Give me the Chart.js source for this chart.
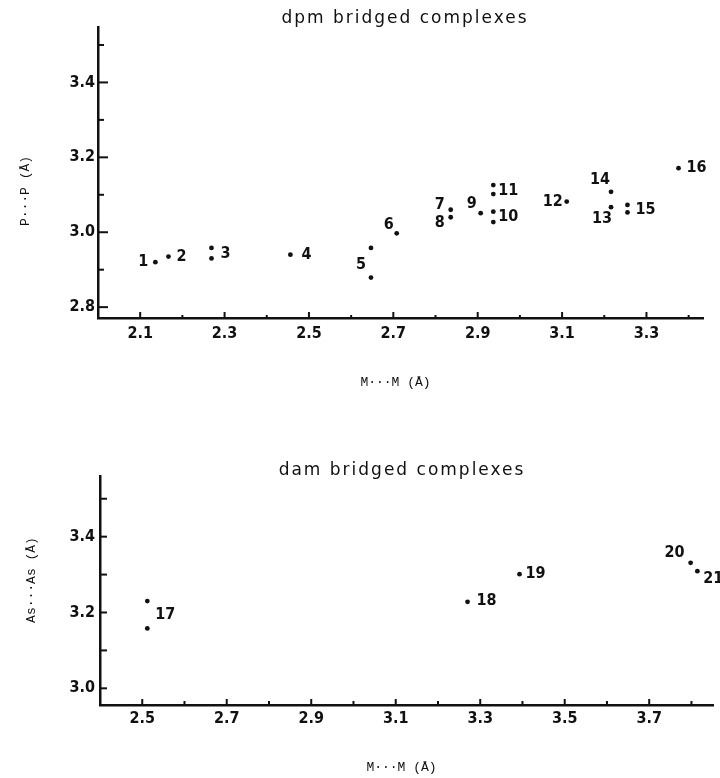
<!DOCTYPE html>
<html>
<head>
<meta charset="utf-8">
<script src="https://cdn.jsdelivr.net/npm/chart.js@4.4.1/dist/chart.umd.min.js"></script>
<style>
  html, body { margin: 0; padding: 0; background: #fff; }
  #wrap { position: relative; width: 720px; height: 778px; }
  .box { position: absolute; left: 0; width: 720px; }
  #topBox { top: 0; height: 400px; }
  #botBox { top: 400px; height: 378px; }
</style>
</head>
<body>
<div id="wrap">
  <div class="box" id="topBox"><canvas id="dpmChart"></canvas></div>
  <div class="box" id="botBox"><canvas id="damChart"></canvas></div>
</div>
<script>
// dpm bridged complexes: P...P distance vs M...M distance (Å)
const dpmIds = ['1', '2', '3', '3', '4', '5', '5', '6', '7', '8', '9', '10', '10', '11', '11', '12', '13', '14', '15', '15', '16'];
const dpmMM  = [2.136, 2.167, 2.269, 2.269, 2.456, 2.647, 2.647, 2.708, 2.836, 2.836, 2.907, 2.937, 2.937, 2.937, 2.937, 3.111, 3.216, 3.216, 3.255, 3.255, 3.376];
const dpmPP  = [2.920, 2.935, 2.958, 2.930, 2.940, 2.958, 2.879, 2.997, 3.060, 3.040, 3.051, 3.055, 3.027, 3.126, 3.102, 3.082, 3.067, 3.108, 3.073, 3.053, 3.171];
const dpmXTicks  = [2.1, 2.2, 2.3, 2.4, 2.5, 2.6, 2.7, 2.8, 2.9, 3.0, 3.1, 3.2, 3.3, 3.4];
const dpmXLabels = ['2.1', '2.3', '2.5', '2.7', '2.9', '3.1', '3.3'];
const dpmYTicks  = [2.8, 2.9, 3.0, 3.1, 3.2, 3.3, 3.4, 3.5];
const dpmYLabels = ['2.8', '3.0', '3.2', '3.4'];

// dam bridged complexes: As...As distance vs M...M distance (Å)
const damIds  = ['17', '17', '18', '19', '20', '21'];
const damMM   = [2.512, 2.512, 3.270, 3.393, 3.798, 3.814];
const damAsAs = [3.230, 3.158, 3.228, 3.301, 3.331, 3.309];
const damXTicks  = [2.5, 2.6, 2.7, 2.8, 2.9, 3.0, 3.1, 3.2, 3.3, 3.4, 3.5, 3.6, 3.7, 3.8];
const damXLabels = ['2.5', '2.7', '2.9', '3.1', '3.3', '3.5', '3.7'];
const damYTicks  = [3.0, 3.1, 3.2, 3.3, 3.4, 3.5];
const damYLabels = ['3.0', '3.2', '3.4'];

// where each number sits relative to its point(s), in px
const dpmLabelOffsets = {
  '1': [-12, 0], '2': [13, 0], '3': [14, 1], '4': [16, 0], '5': [-10, 2], '6': [-8, -9],
  '7': [-11, -5], '8': [-11, 6], '9': [-9, -9], '10': [15, 0], '11': [15, 1], '12': [-14, 0],
  '13': [-9, 12], '14': [-11, -12], '15': [18, 1], '16': [18, 0]
};
const damLabelOffsets = { '17': [18, 0], '18': [19, -1], '19': [16, 0], '20': [-16, -10], '21': [16, 8] };

const numFont = "'Liberation Sans Narrow', 'DejaVu Sans Condensed', 'Arial Narrow', sans-serif";
const ink = '#111';

function points(xs, ys) {
  return xs.map((x, i) => ({ x: x, y: ys[i] }));
}

function pick(v, labels) {
  const s = Number(v).toFixed(1);
  return labels.includes(s) ? s : '';
}

// short tick marks pointing into the plot, longer where a label is
const tickMarks = {
  id: 'tickMarks',
  afterDraw(chart, args, opts) {
    const { ctx } = chart;
    const xs = chart.scales.x, ys = chart.scales.y;
    ctx.save();
    ctx.strokeStyle = ink;
    ctx.lineWidth = 2;
    xs.ticks.forEach(t => {
      const px = xs.getPixelForValue(t.value);
      const len = t.label ? opts.xMajor : opts.xMinor;
      ctx.beginPath();
      ctx.moveTo(px, xs.top);
      ctx.lineTo(px, xs.top - len);
      ctx.stroke();
    });
    ys.ticks.forEach(t => {
      const py = ys.getPixelForValue(t.value);
      const len = t.label ? opts.yMajor : opts.yMinor;
      ctx.beginPath();
      ctx.moveTo(ys.right, py);
      ctx.lineTo(ys.right + len, py);
      ctx.stroke();
    });
    ctx.restore();
  }
};

// title, axis titles and the complex numbers next to the points
const notes = {
  id: 'notes',
  afterDatasetsDraw(chart, args, opts) {
    const { ctx, chartArea } = chart;
    const xs = chart.scales.x, ys = chart.scales.y;
    ctx.save();
    ctx.fillStyle = ink;
    ctx.textAlign = 'center';
    ctx.textBaseline = 'middle';

    ctx.font = "17px 'DejaVu Sans', sans-serif";
    ctx.letterSpacing = '2px';
    ctx.fillText(opts.title, opts.titleX, opts.titleY);
    ctx.letterSpacing = '0px';

    ctx.font = "13px 'Liberation Mono', 'DejaVu Sans Mono', monospace";
    ctx.fillText(opts.xTitle, (chartArea.left + chartArea.right) / 2 - 5, opts.xTitleY);
    ctx.save();
    ctx.translate(opts.yTitleX, opts.yTitleY);
    ctx.rotate(-Math.PI / 2);
    ctx.fillText(opts.yTitle, 0, 0);
    ctx.restore();

    const data = chart.data.datasets[0].data;
    const groups = {};
    opts.ids.forEach((id, i) => {
      (groups[id] = groups[id] || []).push(data[i]);
    });
    ctx.font = 'bold 16px ' + numFont;
    Object.keys(groups).forEach(id => {
      const pts = groups[id];
      let px = 0, py = 0;
      pts.forEach(p => {
        px += xs.getPixelForValue(p.x) / pts.length;
        py += ys.getPixelForValue(p.y) / pts.length;
      });
      const off = opts.offsets[id] || [12, 0];
      ctx.fillText(id, px + off[0], py + off[1]);
    });
    ctx.restore();
  }
};

function axis(min, max, tickValues, labels, size, pad, horizontal) {
  return {
    type: 'linear',
    min: min,
    max: max,
    afterBuildTicks: s => { s.ticks = tickValues.map(v => ({ value: v })); },
    afterFit: s => { if (horizontal) s.height = size; else s.width = size; },
    grid: { display: false, drawTicks: false },
    border: { display: true, color: ink, width: 2.5 },
    ticks: {
      autoSkip: false,
      maxRotation: 0,
      padding: pad,
      color: ink,
      font: { family: numFont, size: 16, weight: 'bold' },
      callback: v => pick(v, labels)
    }
  };
}

function drawScatter(canvasId, cfg) {
  const ctx = document.getElementById(canvasId).getContext('2d');
  new Chart(ctx, {
    type: 'scatter',
    data: {
      datasets: [{
        data: cfg.data,
        pointRadius: 2.4,
        pointHoverRadius: 2.4,
        backgroundColor: ink,
        borderWidth: 0
      }]
    },
    options: {
      responsive: true,
      maintainAspectRatio: false,
      animation: false,
      layout: { padding: cfg.padding },
      plugins: {
        legend: { display: false },
        tooltip: { enabled: false },
        tickMarks: cfg.tickLen,
        notes: cfg.notes
      },
      scales: { x: cfg.x, y: cfg.y }
    },
    plugins: [tickMarks, notes]
  });
}

drawScatter('dpmChart', {
  data: points(dpmMM, dpmPP),
  padding: { left: 0, top: 27, right: 17, bottom: 0 },
  x: axis(2.0, 3.434, dpmXTicks, dpmXLabels, 82, 6, true),
  y: axis(2.771, 3.548, dpmYTicks, dpmYLabels, 98, 3, false),
  tickLen: { xMajor: 6, xMinor: 3, yMajor: 10, yMinor: 6 },
  notes: {
    title: 'dpm bridged complexes', titleX: 405, titleY: 19,
    xTitle: 'M···M (Å)', xTitleY: 383,
    yTitle: 'P···P (Å)', yTitleX: 26, yTitleY: 191,
    ids: dpmIds, offsets: dpmLabelOffsets
  }
});

drawScatter('damChart', {
  data: points(damMM, damAsAs),
  padding: { left: 0, top: 76, right: 7, bottom: 0 },
  x: axis(2.4, 3.851, damXTicks, damXLabels, 73, 4, true),
  y: axis(2.956, 3.56, damYTicks, damYLabels, 100, 5, false),
  tickLen: { xMajor: 6, xMinor: 4, yMajor: 7, yMinor: 7 },
  notes: {
    title: 'dam bridged complexes', titleX: 402, titleY: 71,
    xTitle: 'M···M (Å)', xTitleY: 368,
    yTitle: 'As···As (Å)', yTitleX: 32, yTitleY: 180,
    ids: damIds, offsets: damLabelOffsets
  }
});
</script>
</body>
</html>
